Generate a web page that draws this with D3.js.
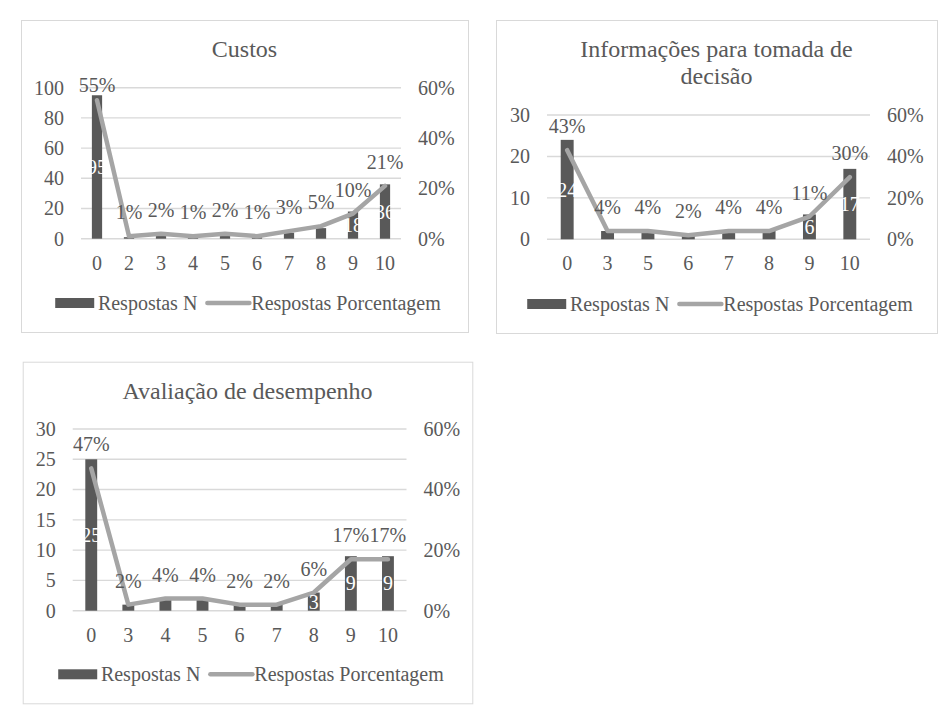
<!DOCTYPE html>
<html>
<head>
<meta charset="utf-8">
<script src="https://cdn.jsdelivr.net/npm/d3@7"></script>
<style>
  body { margin: 0; background: #fff; }
</style>
</head>
<body>
<svg id="chart" width="951" height="720"></svg>
<script>
// Custos
const custosTitle = ["Custos"];
const custosCats = ["0", "2", "3", "4", "5", "6", "7", "8", "9", "10"];
const custosN = [95, 1, 2, 1, 2, 1, 4, 7, 18, 36];
const custosPct = [0.55, 0.01, 0.02, 0.01, 0.02, 0.01, 0.03, 0.05, 0.10, 0.21];
const custosTicksN = [0, 20, 40, 60, 80, 100];

// Informações para tomada de decisão
const infoTitle = ["Informações para tomada de", "decisão"];
const infoCats = ["0", "3", "5", "6", "7", "8", "9", "10"];
const infoN = [24, 2, 2, 1, 2, 2, 6, 17];
const infoPct = [0.43, 0.04, 0.04, 0.02, 0.04, 0.04, 0.11, 0.30];
const infoTicksN = [0, 10, 20, 30];

// Avaliação de desempenho
const avalTitle = ["Avaliação de desempenho"];
const avalCats = ["0", "3", "4", "5", "6", "7", "8", "9", "10"];
const avalN = [25, 1, 2, 2, 1, 1, 3, 9, 9];
const avalPct = [0.47, 0.02, 0.04, 0.04, 0.02, 0.02, 0.06, 0.17, 0.17];
const avalTicksN = [0, 5, 10, 15, 20, 25, 30];

const pctTicks = [0, 0.2, 0.4, 0.6];
const legendLabels = ["Respostas N", "Respostas Porcentagem"];

const FONT = "Liberation Serif";
const barColor = "#595959", lineColor = "#a5a5a5", textColor = "#595959", gridColor = "#d9d9d9";
const svg = d3.select("#chart").attr("font-family", FONT);

function styleAxis(axisG) {
  axisG.attr("font-family", FONT).attr("font-size", 20);
  axisG.select(".domain").remove();
  axisG.selectAll("text").attr("fill", textColor)
    .attr("font-family", FONT).attr("font-size", 20);
}

function drawChart(cfg) {
  const { box, plot } = cfg;
  const g = svg.append("g");

  // chart frame
  g.append("rect")
    .attr("x", box.x + 0.5).attr("y", box.y + 0.5)
    .attr("width", box.w).attr("height", box.h)
    .attr("fill", "#fff").attr("stroke", gridColor).attr("stroke-width", 1);

  // title
  const cx = box.x + box.w / 2;
  cfg.title.forEach((t, i) => {
    g.append("text")
      .attr("x", cx).attr("y", box.y + 37 + i * 27.3)
      .attr("text-anchor", "middle")
      .attr("font-family", FONT).attr("font-size", 24).attr("fill", textColor)
      .text(t);
  });

  const x = d3.scaleBand()
    .domain(cfg.cats)
    .range([plot.x0, plot.x1])
    .paddingInner(0.68).paddingOuter(0.34);
  const yL = d3.scaleLinear().domain(cfg.domainN).range([plot.y1, plot.y0]);
  const yR = d3.scaleLinear().domain([0, 0.6]).range([plot.y1, plot.y0]);
  const mid = c => x(c) + x.bandwidth() / 2;

  // gridlines
  g.append("g").selectAll("line").data(cfg.ticksN).join("line")
    .attr("x1", plot.x0).attr("x2", plot.x1)
    .attr("y1", d => yL(d)).attr("y2", d => yL(d))
    .attr("stroke", gridColor).attr("stroke-width", 1.4);

  // left axis
  g.append("g")
    .attr("transform", `translate(${plot.x0 - 17},0)`)
    .call(d3.axisLeft(yL).tickValues(cfg.ticksN).tickSize(0).tickPadding(0))
    .call(styleAxis);

  // right axis
  g.append("g")
    .attr("transform", `translate(${plot.x1 + 17},0)`)
    .call(d3.axisRight(yR).tickValues(pctTicks).tickFormat(d3.format(".0%")).tickSize(0).tickPadding(0))
    .call(styleAxis);

  // category axis
  g.append("g")
    .attr("transform", `translate(0,${plot.y1})`)
    .call(d3.axisBottom(x).tickSize(0).tickPadding(17))
    .call(styleAxis);

  const rows = cfg.cats.map((c, i) => ({ c, n: cfg.n[i], p: cfg.pct[i] }));

  // bars
  g.append("g").selectAll("rect").data(rows).join("rect")
    .attr("x", d => x(d.c)).attr("width", x.bandwidth())
    .attr("y", d => yL(d.n)).attr("height", d => plot.y1 - yL(d.n))
    .attr("fill", barColor);

  // percentage line
  g.append("path").datum(rows)
    .attr("fill", "none").attr("stroke", lineColor)
    .attr("stroke-width", 4.5).attr("stroke-linejoin", "round").attr("stroke-linecap", "round")
    .attr("d", d3.line().x(d => mid(d.c)).y(d => yR(d.p)));

  // bar value labels (white, centered) - too short bars don't show them
  g.append("g").selectAll("text")
    .data(rows.filter(d => plot.y1 - yL(d.n) >= 15)).join("text")
    .attr("x", d => mid(d.c)).attr("y", d => (yL(d.n) + plot.y1) / 2)
    .attr("dy", "0.35em").attr("text-anchor", "middle")
    .attr("font-family", FONT).attr("font-size", 20).attr("fill", "#fff")
    .text(d => d.n);

  // percentage labels above points
  g.append("g").selectAll("text").data(rows).join("text")
    .attr("x", d => mid(d.c))
    .attr("y", d => Math.max(yR(d.p) - 17, plot.y0 + 4.6))
    .attr("text-anchor", "middle")
    .attr("font-family", FONT).attr("font-size", 20).attr("fill", textColor)
    .text(d => d3.format(".0%")(d.p));

  // legend
  const base = box.y + box.h - 22.5;
  const leg = g.append("g");
  leg.append("rect")
    .attr("x", 0).attr("y", base - 11.5).attr("width", 39).attr("height", 10)
    .attr("fill", barColor);
  const t1 = leg.append("text").attr("x", 42.7).attr("y", base)
    .attr("font-family", FONT).attr("font-size", 20).attr("fill", textColor)
    .text(legendLabels[0]);
  const lx = 42.7 + t1.node().getComputedTextLength() + 10;
  leg.append("line")
    .attr("x1", lx).attr("x2", lx + 42).attr("y1", base - 6.5).attr("y2", base - 6.5)
    .attr("stroke", lineColor).attr("stroke-width", 4.5).attr("stroke-linecap", "round");
  const t2 = leg.append("text").attr("x", lx + 44).attr("y", base)
    .attr("font-family", FONT).attr("font-size", 20).attr("fill", textColor)
    .text(legendLabels[1]);
  const total = lx + 44 + t2.node().getComputedTextLength();
  leg.attr("transform", `translate(${cx + 3.5 - total / 2},0)`);
}

drawChart({
  title: custosTitle, cats: custosCats, n: custosN, pct: custosPct,
  ticksN: custosTicksN, domainN: [0, 100],
  box: { x: 21, y: 20, w: 447, h: 312 },
  plot: { x0: 81, x1: 401, y0: 87.7, y1: 238.7 }
});
drawChart({
  title: infoTitle, cats: infoCats, n: infoN, pct: infoPct,
  ticksN: infoTicksN, domainN: [0, 30],
  box: { x: 496, y: 20, w: 441, h: 313 },
  plot: { x0: 547, x1: 870, y0: 115, y1: 239.3 }
});
drawChart({
  title: avalTitle, cats: avalCats, n: avalN, pct: avalPct,
  ticksN: avalTicksN, domainN: [0, 30],
  box: { x: 22.7, y: 361.7, w: 449.6, h: 341.6 },
  plot: { x0: 72.7, x1: 406.5, y0: 429, y1: 610.7 }
});
</script>
</body>
</html>
